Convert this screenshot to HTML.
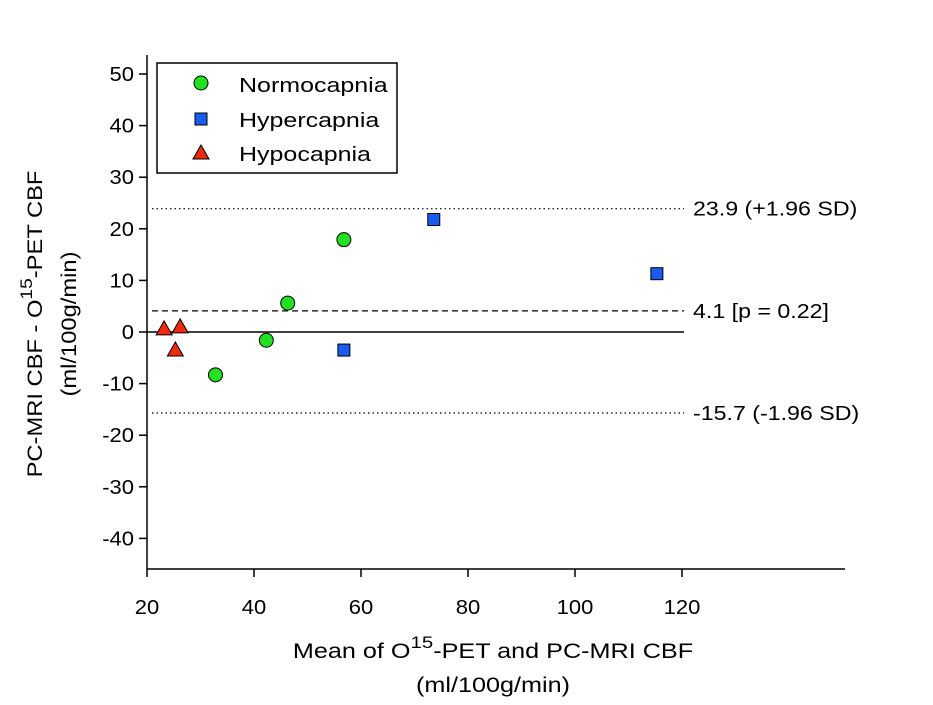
<!DOCTYPE html>
<html><head><meta charset="utf-8"><style>
body{margin:0;background:#fff}
svg text{font-family:"Liberation Sans",sans-serif;fill:#000}
</style></head><body>
<svg id="chart" width="933" height="700" viewBox="0 0 933 700" xmlns="http://www.w3.org/2000/svg"></svg>
<script>
const xTicks=[20,40,60,80,100,120];
const yTicks=[50,40,30,20,10,0,-10,-20,-30,-40];
const normoX=[32.8,42.3,46.3,56.8];
const normoY=[-8.3,-1.6,5.6,17.9];
const hyperX=[56.8,73.6,115.3];
const hyperY=[-3.5,21.8,11.3];
const hypoX=[23.2,26.2,25.3];
const hypoY=[0.6,1.0,-3.5];
const meanDiff=4.1, upperLoA=23.9, lowerLoA=-15.7;
const refLabels=["4.1 [p = 0.22]","23.9 (+1.96 SD)","-15.7 (-1.96 SD)"];

const X=v=>147+(v-20)*5.35;
const Y=v=>332-v*5.16;
const svg=document.getElementById('chart');
const NS="http://www.w3.org/2000/svg";
function mk(tag,attrs,parent){const e=document.createElementNS(NS,tag);for(const k in attrs)e.setAttribute(k,attrs[k]);(parent||svg).appendChild(e);return e;}

let g=mk('g',{});


let e=mk('line',{x1:147,y1:55,x2:147,y2:569,stroke:'#000','stroke-width':1.5},g);


e=mk('line',{x1:147,y1:569,x2:845,y2:569,stroke:'#000','stroke-width':1.5},g);


xTicks.forEach(t=>{
  mk('line',{x1:X(t),y1:569,x2:X(t),y2:577,stroke:'#000','stroke-width':1.5},g);
  e=mk('text',{x:0,y:614,'text-anchor':'middle','font-size':20,transform:`translate(${X(t)},0) scale(1.1,1)`},g);
  e.textContent=t;
  
  
});
yTicks.forEach(t=>{
  mk('line',{x1:139,y1:Y(t),x2:147,y2:Y(t),stroke:'#000','stroke-width':1.5},g);
  e=mk('text',{x:0,y:Y(t)+7,'text-anchor':'end','font-size':20,transform:'translate(134,0) scale(1.1,1)'},g);
  e.textContent=t;
  
  
});
e=mk('line',{x1:147,y1:Y(0),x2:684,y2:Y(0),stroke:'#000','stroke-width':1.5});


const refs=[[meanDiff,'6,4','mean-difference-line'],[upperLoA,'1.5,3','upper-limit-line'],[lowerLoA,'1.5,3','lower-limit-line']];
refs.forEach((r,i)=>{
  e=mk('line',{x1:152,y1:Y(r[0]),x2:684,y2:Y(r[0]),stroke:'#000','stroke-width':1.2,'stroke-dasharray':r[1]});
  
  
  e=mk('text',{x:0,y:Y(r[0])+7,'font-size':20,transform:'translate(693,0) scale(1.16,1)'});
  e.textContent=refLabels[i];
  
  
});
normoX.forEach((x,i)=>{
  e=mk('circle',{cx:X(x),cy:Y(normoY[i]),r:7,fill:'#22e022',stroke:'#000','stroke-width':1});
  
  
});
hyperX.forEach((x,i)=>{
  e=mk('rect',{x:X(x)-6,y:Y(hyperY[i])-6,width:12,height:12,fill:'#1a5cf0',stroke:'#000','stroke-width':1});
  
  
});
hypoX.forEach((x,i)=>{
  const cx=X(x),cy=Y(hypoY[i]);
  e=mk('polygon',{points:`${cx},${cy-8} ${cx+8},${cy+6} ${cx-8},${cy+6}`,fill:'#f02a10',stroke:'#000','stroke-width':1});
  
  
});
</script>
<svg style="position:absolute;left:0;top:0" width="933" height="700">
<g>
<rect x="157" y="63" width="240" height="110" fill="#fff" stroke="#000" stroke-width="1.5"/>
<circle cx="201" cy="83" r="7" fill="#22e022" stroke="#000"/>
<text x="0" y="92" transform="translate(239,0) scale(1.25,1)" font-size="20" font-family="Liberation Sans,sans-serif">Normocapnia</text>
<rect x="195" y="113" width="12" height="12" fill="#1a5cf0" stroke="#000"/>
<text x="0" y="127" transform="translate(239,0) scale(1.25,1)" font-size="20" font-family="Liberation Sans,sans-serif">Hypercapnia</text>
<polygon points="201,145 209,159 193,159" fill="#f02a10" stroke="#000"/>
<text x="0" y="161" transform="translate(239,0) scale(1.25,1)" font-size="20" font-family="Liberation Sans,sans-serif">Hypocapnia</text>
</g>
<text x="0" y="658" transform="translate(493,0) scale(1.2,1)" text-anchor="middle" font-size="21" font-family="Liberation Sans,sans-serif">Mean of O<tspan dy="-10" font-size="17">15</tspan><tspan dy="10">-PET and PC-MRI CBF</tspan></text>
<text x="0" y="692" transform="translate(493,0) scale(1.2,1)" text-anchor="middle" font-size="21" font-family="Liberation Sans,sans-serif">(ml/100g/min)</text>
<g transform="translate(42,324) rotate(-90) scale(1.13,1)">
<text x="0" y="0" text-anchor="middle" font-size="21" font-family="Liberation Sans,sans-serif">PC-MRI CBF - O<tspan dy="-10" font-size="17">15</tspan><tspan dy="10">-PET CBF</tspan></text>
<text x="0" y="34" text-anchor="middle" font-size="21" font-family="Liberation Sans,sans-serif">(ml/100g/min)</text>
</g>
</svg>
</body></html>
